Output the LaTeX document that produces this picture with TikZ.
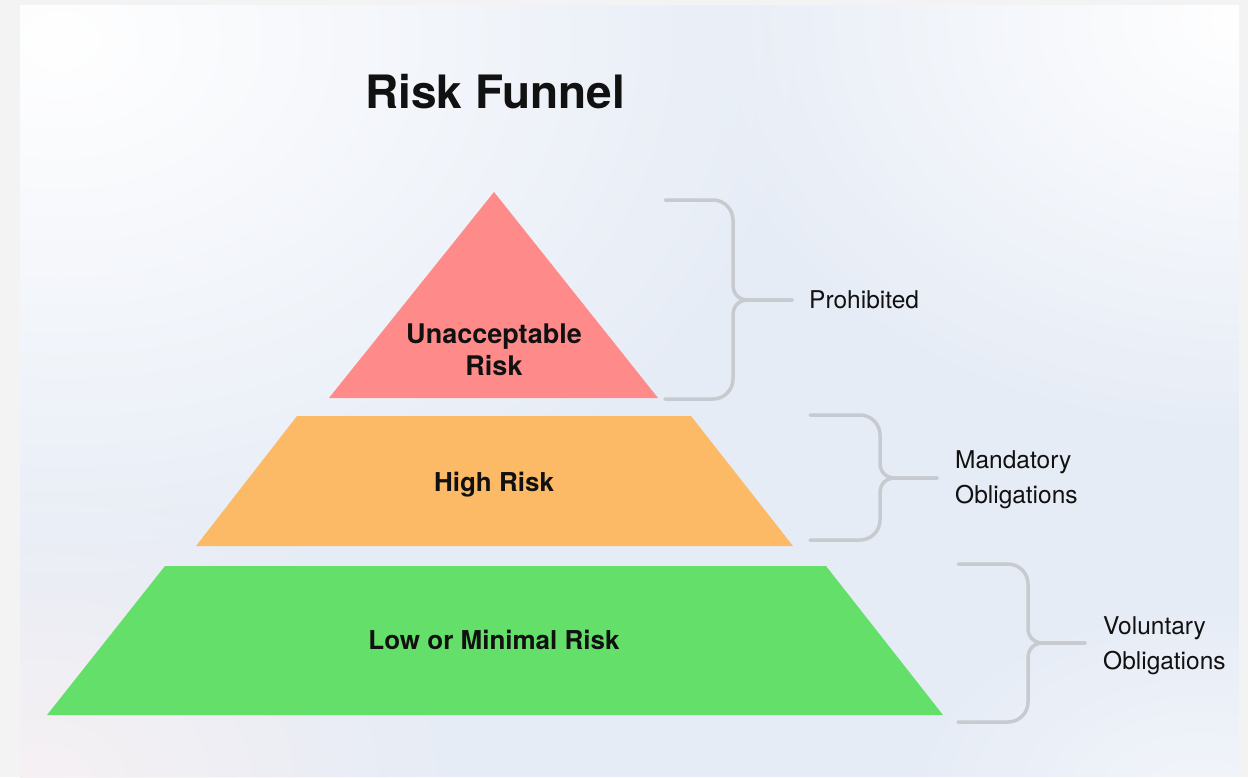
\documentclass[tikz,border=0pt]{standalone}
\usepackage{fontspec}
\setmainfont{TeX Gyre Heros}
\usetikzlibrary{fadings}
\definecolor{outerbg}{HTML}{F3F3F3}
\definecolor{panelbg}{HTML}{E6ECF6}
\definecolor{pinkish}{HTML}{F6F1F3}
\definecolor{riskred}{HTML}{FF8A8A}
\definecolor{riskorange}{HTML}{FDBA66}
\definecolor{riskgreen}{HTML}{64E06A}
\definecolor{bracegray}{HTML}{C7CACF}
\definecolor{ink}{HTML}{111111}
\tikzfading[name=softspot, inner color=transparent!0, outer color=transparent!100]
\newcommand{\tierbrace}[7]{%
  % #1 name, #2 x start, #3 y top, #4 x vertical, #5 y mid, #6 x end, #7 y bottom
  \coordinate (#1-tip) at (#6,#5);
  \draw[bracepath] (#2,#3) -- ({#4-20},#3)
    .. controls ({#4-9},#3) and (#4,{#3+9}) .. (#4,{#3+20})
    -- (#4,{#5-15})
    .. controls (#4,{#5-6}) and ({#4+6},#5) .. ({#4+15},#5)
    -- (#1-tip);
  \draw[bracepath] (#1-tip) -- ({#4+15},#5)
    .. controls ({#4+6},#5) and (#4,{#5+6}) .. (#4,{#5+15})
    -- (#4,{#7-20})
    .. controls (#4,{#7-9}) and ({#4-9},#7) .. ({#4-20},#7)
    -- (#2,#7);
}
\begin{document}
\begin{tikzpicture}[x=1pt,y=-1pt,
  bracepath/.style={draw=bracegray, line width=3.5pt, line cap=round, line join=round},
  sidelabel/.style={anchor=base west, inner sep=0pt, font=\fontsize{24.5}{35}\selectfont, text=ink, align=left},
  tierlabel/.style={anchor=base, inner sep=0pt, font=\fontsize{26}{32}\selectfont\bfseries, text=ink, align=center},
]
\useasboundingbox (0,0) rectangle (1248,777);
\fill[outerbg] (0,0) rectangle (1248,777);
\fill[panelbg] (20,5) rectangle (1239,777);
\begin{scope}
  \clip (20,5) rectangle (1239,777);
  \fill[white, path fading=softspot] (60,40) ellipse [x radius=760, y radius=560];
  \fill[white, path fading=softspot] (1240,20) ellipse [x radius=560, y radius=420];
  \fill[pinkish, path fading=softspot] (40,780) ellipse [x radius=420, y radius=300];
  \fill[white, opacity=0.5, path fading=softspot] (1200,800) ellipse [x radius=300, y radius=200];
\end{scope}

% title
\node[anchor=base, inner sep=0pt, font=\fontsize{46}{50}\selectfont\bfseries, text=ink] (title) at (495,108) {Risk Funnel};

% tiers
\fill[riskred] (494,192) -- (658,398) -- (329,398) -- cycle;
\fill[riskorange] (297,416) -- (691,416) -- (793,546) -- (196,546) -- cycle;
\fill[riskgreen] (165,566) -- (826,566) -- (943,715) -- (47,715) -- cycle;

% multi-line nodes: base anchor = baseline of last line
\node[tierlabel, font=\fontsize{27}{32}\selectfont\bfseries] (unacc) at (494,375) {Unacceptable\\Risk};
\node[tierlabel] (high) at (494,491) {High Risk};
\node[tierlabel] (low) at (494,649) {Low or Minimal Risk};

% braces
\tierbrace{b1}{665}{200}{733}{300}{792}{399}
\tierbrace{b2}{810}{415}{880}{478}{937}{540}
\tierbrace{b3}{958}{564}{1028}{643}{1085}{722}

\node[sidelabel] (prohib) at (809,308) {Prohibited};
\node[sidelabel] (mand) at (955,503) {Mandatory\\Obligations};
\node[sidelabel] (vol) at (1103,669) {Voluntary\\Obligations};
\end{tikzpicture}
\end{document}
